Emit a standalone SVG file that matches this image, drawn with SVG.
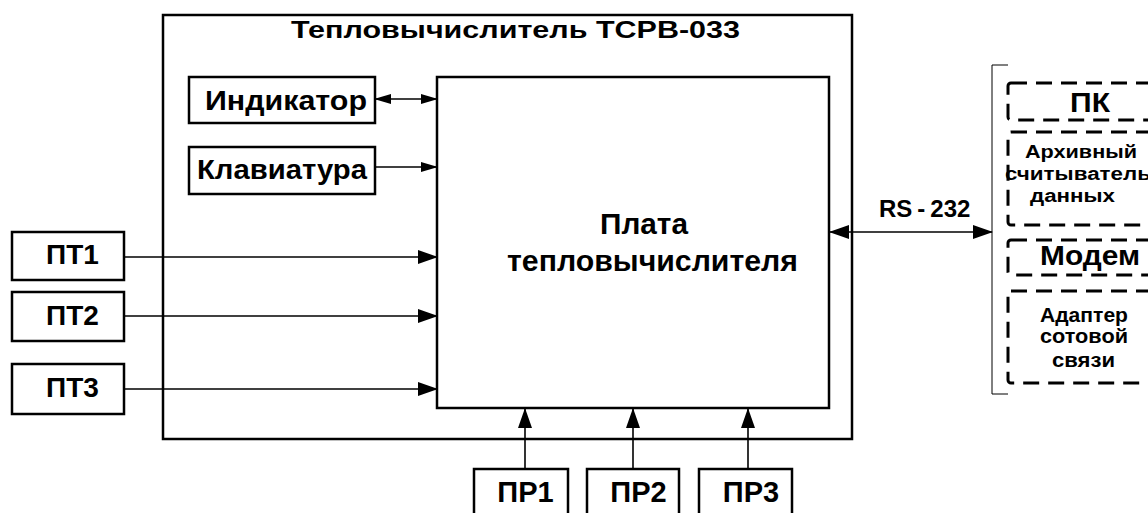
<svg xmlns="http://www.w3.org/2000/svg" width="1148" height="513" viewBox="0 0 1148 513">
<defs>
<style>
text{font-family:"Liberation Sans",Arial,sans-serif;font-weight:bold;fill:#000}
.box{fill:#fff;stroke:#000;stroke-width:2.5}
.dash{fill:none;stroke:#000;stroke-width:3;stroke-dasharray:16 9}
.ln{stroke:#000;stroke-width:1.6;fill:none}
.thin{stroke:#000;stroke-width:1;fill:none}
</style>
<marker id="ah" markerUnits="userSpaceOnUse" markerWidth="20" markerHeight="14" refX="19" refY="7" orient="auto-start-reverse" viewBox="0 0 20 14">
<path d="M0,0 L20,7 L0,14 Z" fill="#000"/>
</marker>
<marker id="ahs" markerUnits="userSpaceOnUse" markerWidth="17" markerHeight="10" refX="16" refY="5" orient="auto-start-reverse" viewBox="0 0 17 10">
<path d="M0,0 L17,5 L0,10 Z" fill="#000"/>
</marker>
</defs>
<g id="outer">
<rect class="box" x="163" y="15" width="689" height="424"/>
<text x="291" y="38" font-size="24" textLength="449" lengthAdjust="spacingAndGlyphs">Тепловычислитель ТСРВ-033</text>
</g>
<g id="board">
<rect class="box" x="437" y="77" width="392" height="331" stroke-width="2"/>
<text x="600" y="234" font-size="29" textLength="88" lengthAdjust="spacingAndGlyphs">Плата</text>
<text x="507" y="271" font-size="29" textLength="291" lengthAdjust="spacingAndGlyphs">тепловычислителя</text>
</g>
<g id="indicator">
<rect class="box" x="189" y="77" width="186" height="46"/>
<text x="205" y="110" font-size="27" textLength="162" lengthAdjust="spacingAndGlyphs">Индикатор</text>
</g>
<g id="keyboard">
<rect class="box" x="189" y="147" width="186" height="47"/>
<text x="197" y="179" font-size="27" textLength="170" lengthAdjust="spacingAndGlyphs">Клавиатура</text>
</g>
<g id="pt1">
<rect class="box" x="12" y="232" width="112" height="48"/>
<text x="72.5" y="264" font-size="28" text-anchor="middle">ПТ1</text>
</g>
<g id="pt2">
<rect class="box" x="12" y="292" width="112" height="49"/>
<text x="72.5" y="325" font-size="28" text-anchor="middle">ПТ2</text>
</g>
<g id="pt3">
<rect class="box" x="12" y="364" width="112" height="50"/>
<text x="72.5" y="397" font-size="28" text-anchor="middle">ПТ3</text>
</g>
<g id="pr1">
<rect class="box" x="474" y="469" width="94" height="60"/>
<text x="525.5" y="502" font-size="29" text-anchor="middle">ПР1</text>
</g>
<g id="pr2">
<rect class="box" x="587" y="469" width="92" height="60"/>
<text x="638.5" y="502" font-size="29" text-anchor="middle">ПР2</text>
</g>
<g id="pr3">
<rect class="box" x="699" y="469" width="93" height="60"/>
<text x="751" y="502" font-size="29" text-anchor="middle">ПР3</text>
</g>
<g id="external">
<path class="thin" d="M1008,65 H992 V394 H1008"/>
<g id="pk">
<rect class="dash" x="1008" y="83" width="160" height="37" rx="3"/>
<text x="1070" y="112" font-size="27" textLength="40" lengthAdjust="spacingAndGlyphs">ПК</text>
</g>
<g id="reader">
<rect class="dash" x="1008" y="132" width="160" height="93" rx="3"/>
<text x="1025" y="158" font-size="18" textLength="112" lengthAdjust="spacingAndGlyphs">Архивный</text>
<text x="1005" y="180" font-size="18" textLength="146" lengthAdjust="spacingAndGlyphs">считыватель</text>
<text x="1030" y="202" font-size="18" textLength="85" lengthAdjust="spacingAndGlyphs">данных</text>
</g>
<g id="modem">
<rect class="dash" x="1008" y="240" width="160" height="35" rx="3"/>
<text x="1040" y="265" font-size="28" textLength="100" lengthAdjust="spacingAndGlyphs">Модем</text>
</g>
<g id="gsm">
<rect class="dash" x="1008" y="291" width="160" height="92" rx="3"/>
<text x="1040" y="322" font-size="20" textLength="88" lengthAdjust="spacingAndGlyphs">Адаптер</text>
<text x="1040" y="343" font-size="20" textLength="88" lengthAdjust="spacingAndGlyphs">сотовой</text>
<text x="1052" y="367" font-size="20" textLength="63" lengthAdjust="spacingAndGlyphs">связи</text>
</g>
</g>
<g id="connectors">
<line class="ln" x1="375" y1="99" x2="437" y2="99" marker-start="url(#ahs)" marker-end="url(#ahs)"/>
<line class="ln" x1="375" y1="167" x2="437" y2="167" marker-end="url(#ahs)"/>
<line class="ln" x1="124" y1="257" x2="437" y2="257" marker-end="url(#ah)"/>
<line class="ln" x1="124" y1="316" x2="437" y2="316" marker-end="url(#ah)"/>
<line class="ln" x1="124" y1="389" x2="437" y2="389" marker-end="url(#ah)"/>
<line class="ln" x1="525" y1="469" x2="525" y2="409" marker-end="url(#ah)"/>
<line class="ln" x1="633" y1="469" x2="633" y2="409" marker-end="url(#ah)"/>
<line class="ln" x1="748" y1="469" x2="748" y2="409" marker-end="url(#ah)"/>
<line class="ln" x1="830" y1="232" x2="992" y2="232" marker-start="url(#ah)" marker-end="url(#ah)"/>
<text x="879" y="217" font-size="24">RS<tspan dx="5">-</tspan><tspan dx="5">232</tspan></text>
</g>
</svg>
